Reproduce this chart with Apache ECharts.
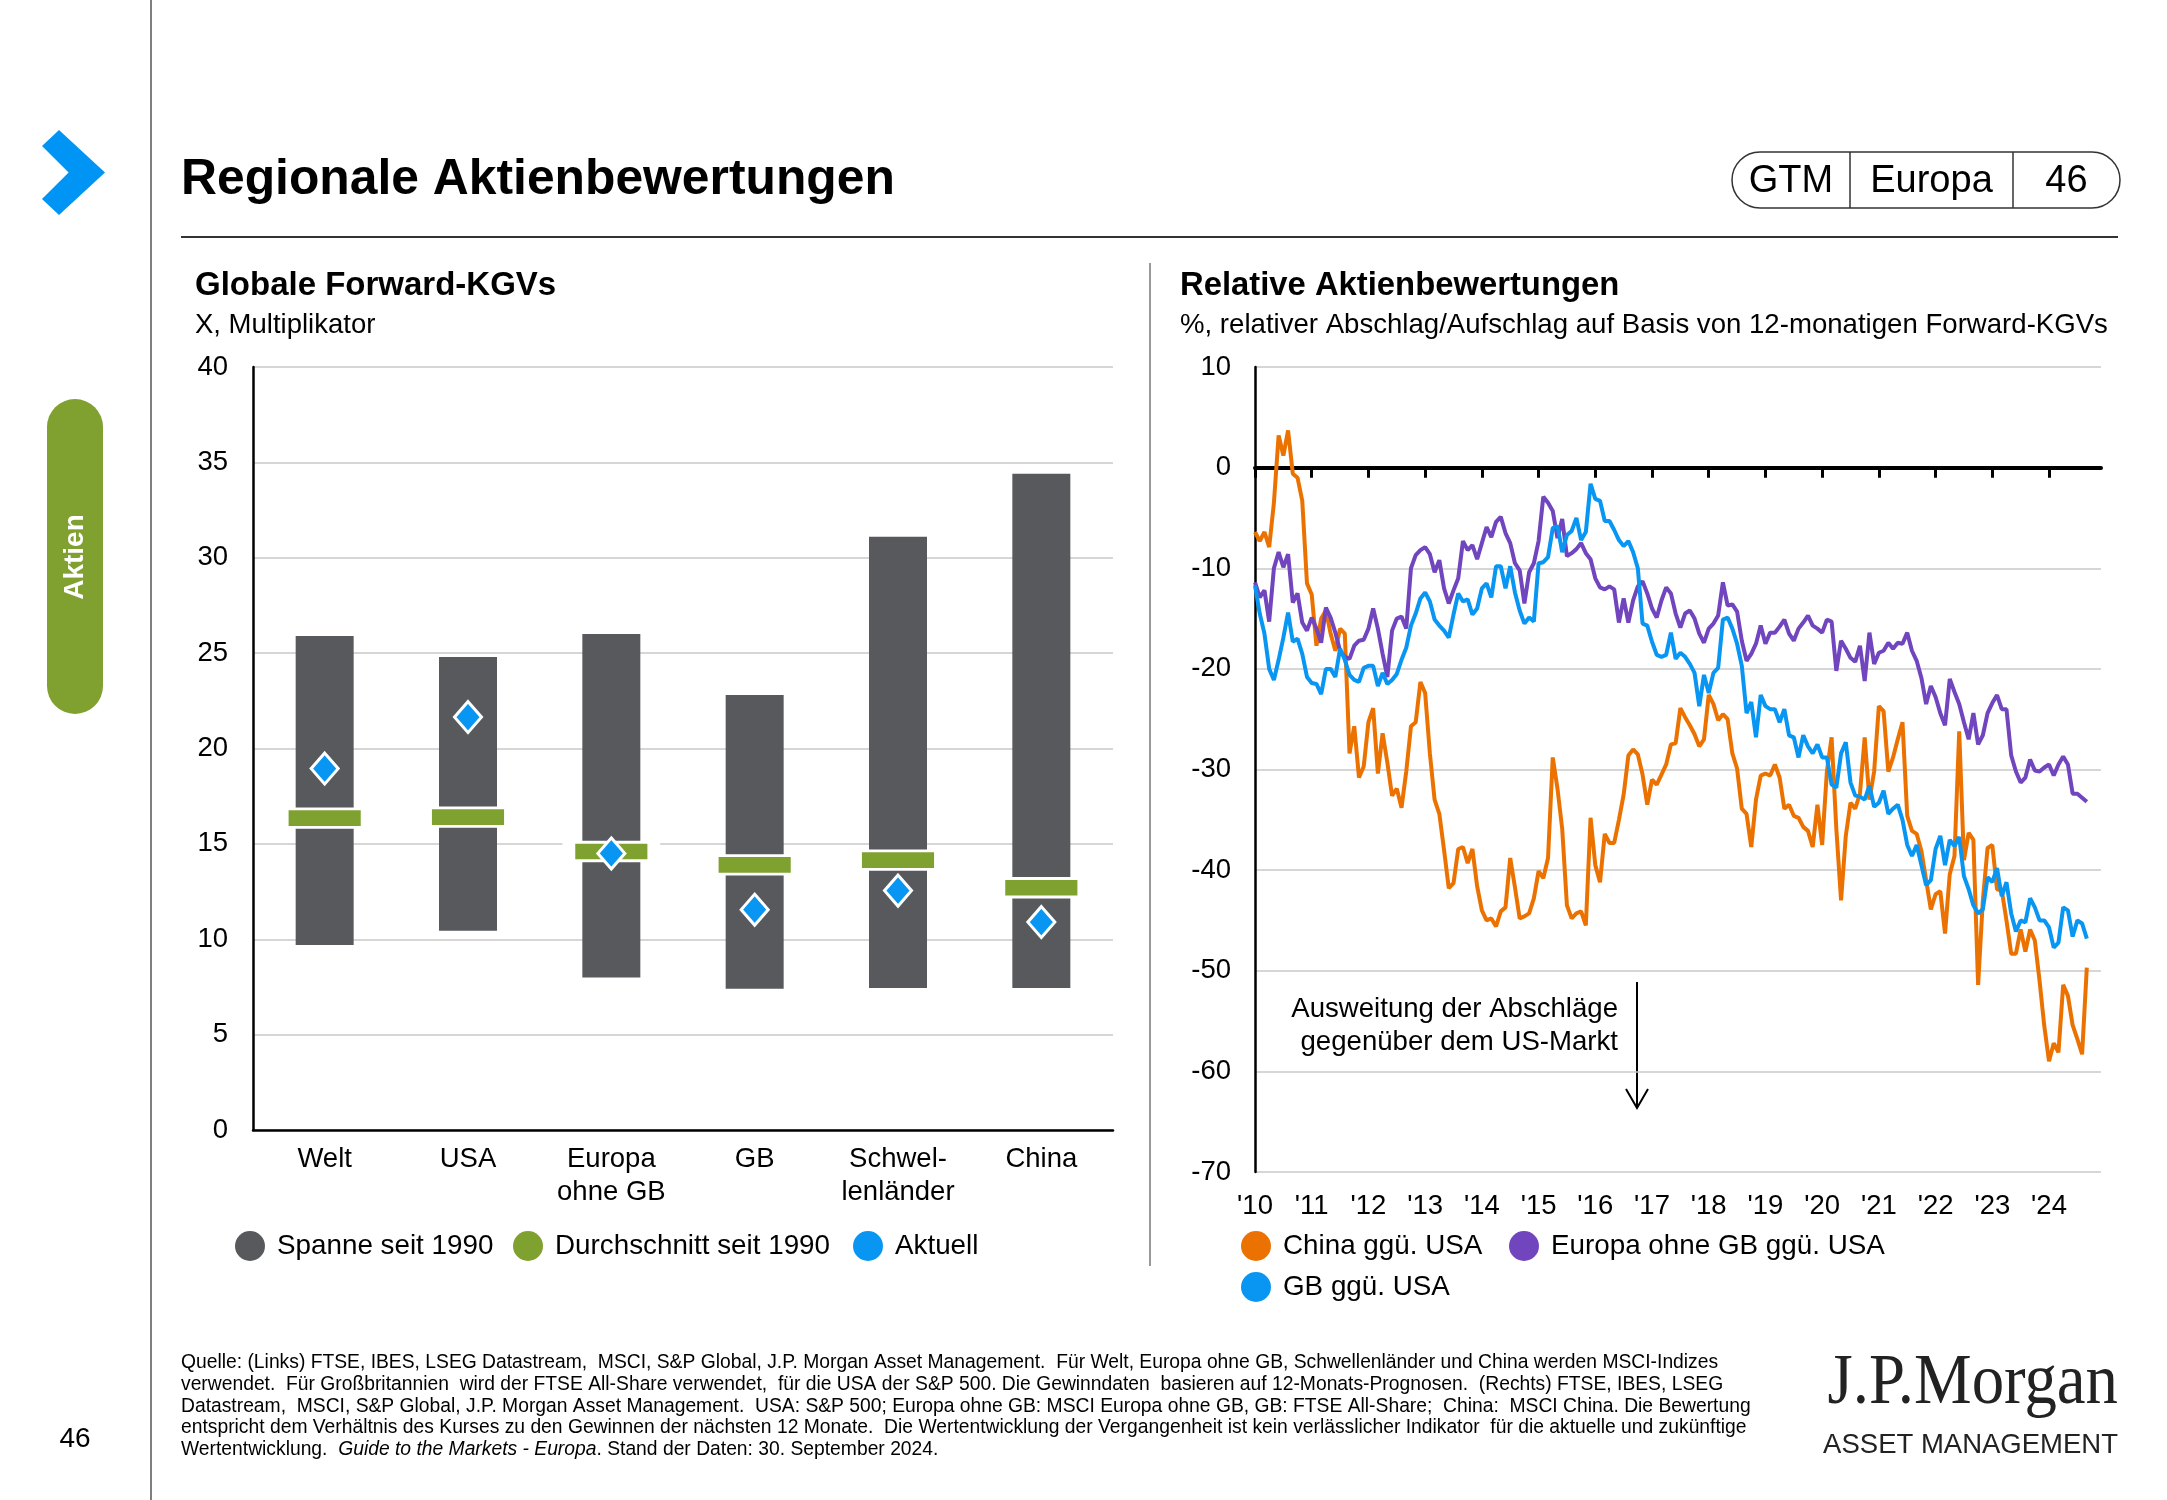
<!DOCTYPE html>
<html><head><meta charset="utf-8">
<script src="https://cdn.jsdelivr.net/npm/echarts@6/dist/echarts.min.js"></script>
<style>html,body{margin:0;padding:0;background:#fff}#c{width:2167px;height:1500px}</style>
</head><body><div id="c"></div>
<script>
const FONT = '"Liberation Sans", Arial, Helvetica, sans-serif';

// ---- Left chart: global forward P/E ----
const categories = ['Welt', 'USA', 'Europa\nohne GB', 'GB', 'Schwel-\nlenländer', 'China'];
const rangeLow  = [9.7, 10.45, 8.0, 7.4, 7.45, 7.45];
const rangeHigh = [25.9, 24.8, 26.0, 22.8, 31.1, 34.4];
const average   = [16.35, 16.4, 14.6, 13.9, 14.15, 12.7];
const current   = [18.95, 21.65, 14.5, 11.55, 12.55, 10.9];
const leftTicks = [0, 40, 5]; // min, max, interval

// ---- Right chart: relative valuations, monthly Jan 2010 .. Sep 2024 ----
const startYear = 2010, endYear = 2024;
const rightTicks = [-70, 10, 10];
const chinaVsUSA = [
 -6.4,-7.3,-6.4,-7.9,-3.5,3.2,1.2,3.7,-0.6,-1.0,-3.3,-11.5,
 -12.6,-17.7,-15,-14.2,-16.5,-18.2,-16,-16.5,-28.4,-25.7,-30.8,-29.7,
 -25.3,-23.9,-30.4,-26.4,-29.3,-32.6,-31.9,-33.8,-30.2,-25.7,-25.3,-21.3,
 -22.4,-28.4,-33,-34.4,-38,-41.8,-41.3,-37.9,-37.7,-39.3,-37.9,-41.6,
 -44,-45,-44.8,-45.6,-44.1,-43.7,-38.8,-41.7,-44.8,-44.6,-44.3,-42.8,
 -40.1,-40.8,-38.8,-28.8,-31.9,-35.9,-43.5,-44.8,-44.3,-44.1,-45.5,-34.8,
 -39.5,-41.2,-36.4,-37.3,-37.3,-35,-32.5,-28.6,-28,-28.5,-30.5,-33.5,
 -31,-31.5,-30.5,-29.5,-27.5,-27.4,-23.9,-24.8,-25.6,-26.5,-27.7,-27,
 -22.6,-23.5,-25.1,-24.5,-25,-28.4,-29.9,-33.9,-34.4,-37.7,-33,-30.6,
 -30.4,-30.6,-29.5,-30.8,-33.9,-33.5,-34.6,-34.8,-35.7,-36.1,-37.7,-33.5,
 -37.5,-30.2,-26.8,-35.9,-43,-36.6,-33.3,-33.9,-32.4,-26.8,-33,-30.2,
 -23.7,-24.2,-30.2,-28.8,-27,-25.3,-34.6,-36.1,-36.4,-38.1,-41,-43.9,
 -42.4,-42.1,-46.3,-40.4,-38.6,-26.2,-39,-36.3,-37,-51.4,-43,-37.8,
 -37.5,-41.9,-42,-45,-48.3,-48.3,-45.9,-48.1,-45.9,-47,-51,-55.5,
 -59,-57.2,-58.1,-51.4,-52.5,-55.4,-56.8,-58.3,-49.7
];
const europeExUKVsUSA = [
 -11.4,-12.9,-12.2,-15.3,-10,-8.4,-9.9,-8.6,-13.4,-12.5,-15.4,-16.2,
 -14.9,-16,-17.4,-13.9,-14.9,-16.4,-18.2,-18.8,-19,-17.7,-17.2,-17.1,
 -16,-14,-16,-18.5,-20.8,-16.2,-15,-14.8,-16,-10,-8.7,-8.2,
 -7.9,-8.6,-10.4,-9.2,-12,-13.5,-12.2,-11,-7.3,-8.2,-7.7,-9.1,
 -7.5,-5.9,-6.9,-5.4,-4.9,-6.5,-7.5,-9.5,-10.2,-13.5,-10.4,-9.5,
 -7.3,-2.9,-3.5,-4.3,-7,-5.1,-8.8,-8.5,-8.1,-7.5,-8.5,-9.1,
 -11,-11.9,-12.1,-11.8,-12.1,-15.4,-13,-15.4,-13.2,-11.8,-11.3,-12.5,
 -14,-14.9,-13.2,-11.9,-12.5,-14.5,-15.9,-14.5,-14.2,-15,-16.5,-17.4,
 -16,-15.5,-14.7,-11.4,-13.7,-13.6,-14.3,-17.2,-19.2,-18.5,-17.5,-15.7,
 -17.5,-16.4,-16.4,-15.8,-15.1,-16.5,-17.2,-16,-15.4,-14.7,-15.7,-16,
 -16.4,-15.1,-15.3,-20.2,-17.2,-18,-18.9,-19.3,-17.7,-21.2,-16.4,-19.5,
 -18.4,-18.2,-17.4,-18,-17.4,-17.5,-16.4,-18.2,-19.2,-20.9,-23.5,-21.7,
 -22.8,-24.4,-25.6,-21,-22.3,-23.5,-25.3,-27,-24.4,-27.5,-26.6,-24.4,
 -23.4,-22.6,-24,-24,-28.6,-30.2,-31.3,-30.8,-29,-30.1,-30.2,-29.8,
 -29.5,-30.6,-29.5,-28.7,-29.5,-32.4,-32.4,-32.8,-33.2
];
const ukVsUSA = [
 -11.7,-14.5,-16.5,-20,-21.1,-19.1,-16.9,-14.4,-17.3,-17,-18.5,-20.8,
 -21.4,-21.5,-22.5,-20,-20,-20.8,-18,-19.1,-20.6,-21.1,-21.3,-19.9,
 -19.7,-19.7,-21.7,-20.4,-21.5,-21.1,-20.5,-19.1,-17.9,-15.7,-14.5,-13,
 -12.4,-13.3,-15.1,-15.7,-16.2,-16.9,-14.6,-12.5,-13.3,-13.1,-14.6,-14,
 -12,-11.5,-12.9,-9.8,-9.8,-12,-9.8,-12.4,-14.2,-15.5,-14.9,-15.3,
 -9.5,-9.4,-8.9,-6,-5.8,-8.4,-6.7,-6.3,-5,-7.2,-6.4,-1.6,
 -3.1,-3.3,-5.3,-5.3,-6.2,-7.2,-7.8,-7.3,-8.4,-10,-15.5,-15.7,
 -17.3,-18.6,-18.8,-18.6,-16.4,-19,-18.4,-18.8,-19.5,-20.4,-23.7,-20.6,
 -22.4,-20.4,-19.9,-15.1,-14.9,-16,-17.5,-19.7,-24.4,-23.3,-26.8,-22.6,
 -23.7,-24,-24,-25.3,-24,-26.6,-26.8,-28.8,-26.6,-27.7,-28.4,-27.5,
 -28.8,-28.8,-31.5,-31.8,-28.4,-27.3,-31.3,-32.6,-32.7,-33,-31.6,-33.7,
 -33.3,-32.1,-34.4,-33.9,-33.5,-35,-37.5,-38.6,-37.5,-39.5,-41.5,-41,
 -37.9,-36.6,-39.5,-37,-37.6,-36.7,-40.6,-41.9,-43.5,-44.3,-43.9,-40.7,
 -41.2,-39.8,-42.6,-41.2,-44.3,-46.1,-45,-45.2,-42.8,-43.7,-45,-45,
 -45.7,-47.7,-47.2,-43.7,-44,-46.6,-45,-45.3,-46.8
];

const months = [];
for (let y = startYear; y <= endYear; y++) {
  for (let m = 1; m <= 12; m++) months.push(y + '-' + (m < 10 ? '0' + m : m));
}
const isJan = (i, v) => v.slice(5) === '01';

const C_GRAY = '#57595C', C_GREEN = '#7FA12F', C_BLUE = '#0896F2',
      C_ORANGE = '#EB7200', C_PURPLE = '#7045BE', C_GRID = '#C9C9C9';

const txt = (x, y, text, size, extra) => Object.assign({
  type: 'text', x: x, y: y, silent: true,
  style: Object.assign({ text: text, fontSize: size, fontFamily: FONT, fill: '#000',
    align: 'left', verticalAlign: 'middle' }, (extra && extra.style) || {})
}, extra && extra.el || {});

const FN = 19.3;
const graphics = [
  { type: 'line', silent: true, shape: { x1: 151, y1: 0, x2: 151, y2: 1500 }, style: { stroke: '#555', lineWidth: 1.5 } },
  { type: 'polygon', silent: true, shape: { points: [[42,146],[59,130],[105,172.5],[59,215],[42,199],[68.6,172.5]] }, style: { fill: '#0095F5' } },
  { type: 'rect', silent: true, shape: { x: 47, y: 399, width: 56, height: 315, r: 28 }, style: { fill: '#80A030' } },
  { type: 'text', silent: true, x: 75, y: 557, rotation: Math.PI / 2,
    style: { text: 'Aktien', fill: '#fff', fontSize: 28, fontWeight: 'bold', fontFamily: FONT, align: 'center', verticalAlign: 'middle' } },
  txt(181, 180, 'Regionale Aktienbewertungen', 49.8, { style: { fontWeight: 'bold' } }),
  { type: 'line', silent: true, shape: { x1: 181, y1: 237, x2: 2118, y2: 237 }, style: { stroke: '#333', lineWidth: 2 } },
  { type: 'rect', silent: true, shape: { x: 1732, y: 152, width: 388, height: 56, r: 28 }, style: { fill: 'none', stroke: '#333', lineWidth: 1.5 } },
  { type: 'line', silent: true, shape: { x1: 1850, y1: 152, x2: 1850, y2: 208 }, style: { stroke: '#333', lineWidth: 1.5 } },
  { type: 'line', silent: true, shape: { x1: 2013, y1: 152, x2: 2013, y2: 208 }, style: { stroke: '#333', lineWidth: 1.5 } },
  txt(1791, 182, 'GTM', 38, { style: { align: 'center' } }),
  txt(1931.5, 182, 'Europa', 38, { style: { align: 'center' } }),
  txt(2066.5, 182, '46', 38, { style: { align: 'center' } }),
  txt(195, 285.5, 'Globale Forward-KGVs', 33, { style: { fontWeight: 'bold' } }),
  txt(195, 325.5, 'X, Multiplikator', 27.5),
  txt(1180, 285.5, 'Relative Aktienbewertungen', 32.8, { style: { fontWeight: 'bold' } }),
  txt(1180, 325.5, '%, relativer Abschlag/Aufschlag auf Basis von 12-monatigen Forward-KGVs', 27.6),
  { type: 'line', silent: true, shape: { x1: 1150, y1: 263, x2: 1150, y2: 1266 }, style: { stroke: '#777', lineWidth: 1.5 } },
  txt(1618, 1009, 'Ausweitung der Abschläge', 27.6, { style: { align: 'right' } }),
  txt(1618, 1042, 'gegenüber dem US-Markt', 27.6, { style: { align: 'right' } }),
  { type: 'line', silent: true, shape: { x1: 1637, y1: 982, x2: 1637, y2: 1108 }, style: { stroke: '#000', lineWidth: 2 } },
  { type: 'polyline', silent: true, shape: { points: [[1626, 1089], [1637, 1108], [1648, 1089]] }, style: { stroke: '#000', lineWidth: 2, fill: 'none' } },
  txt(75, 1439, '46', 28, { style: { align: 'center' } }),
  txt(181, 1363, 'Quelle: (Links) FTSE, IBES, LSEG Datastream,  MSCI, S&P Global, J.P. Morgan Asset Management.  Für Welt, Europa ohne GB, Schwellenländer und China werden MSCI-Indizes', FN),
  txt(181, 1385, 'verwendet.  Für Großbritannien  wird der FTSE All-Share verwendet,  für die USA der S&P 500. Die Gewinndaten  basieren auf 12-Monats-Prognosen.  (Rechts) FTSE, IBES, LSEG', FN),
  txt(181, 1407, 'Datastream,  MSCI, S&P Global, J.P. Morgan Asset Management.  USA: S&P 500; Europa ohne GB: MSCI Europa ohne GB, GB: FTSE All-Share;  China:  MSCI China. Die Bewertung', FN),
  txt(181, 1428, 'entspricht dem Verhältnis des Kurses zu den Gewinnen der nächsten 12 Monate.  Die Wertentwicklung der Vergangenheit ist kein verlässlicher Indikator  für die aktuelle und zukünftige', FN),
  txt(181, 1450, 'Wertentwicklung.  {i|Guide to the Markets - Europa}. Stand der Daten: 30. September 2024.', FN,
      { style: { rich: { i: { fontStyle: 'italic', fontSize: FN, fontFamily: FONT } } } }),
  { type: 'text', silent: true, x: 2118, y: 1384, scaleX: 0.9,
    style: { text: 'J.P.Morgan', fontSize: 72, fontFamily: '"Liberation Serif", "DejaVu Serif", serif', fill: '#222', align: 'right', verticalAlign: 'middle' } },
  txt(2118, 1445, 'ASSET MANAGEMENT', 27.5, { style: { align: 'right', fill: '#222' } })
];

const axisFont = { fontSize: 27.5, fontFamily: FONT, color: '#000' };

const legendItem = (name, left, top, color) => ({
  data: [{ name: name, icon: 'circle', itemStyle: { color: color, borderWidth: 0 } }],
  left: left, top: top, padding: 0, itemWidth: 44, itemHeight: 30, symbolKeepAspect: true,
  textStyle: { fontSize: 27.8, fontFamily: FONT, color: '#000' }, selectedMode: false
});

const option = {
  animation: false,
  backgroundColor: '#fff',
  graphic: graphics,
  legend: [
    legendItem('Spanne seit 1990', 235, 1231, C_GRAY),
    legendItem('Durchschnitt seit 1990', 513, 1231, C_GREEN),
    legendItem('Aktuell', 853, 1231, C_BLUE),
    legendItem('China ggü. USA', 1241, 1231, C_ORANGE),
    legendItem('Europa ohne GB ggü. USA', 1509, 1231, C_PURPLE),
    legendItem('GB ggü. USA', 1241, 1272, C_BLUE)
  ],
  grid: [
    { left: 253, top: 367, width: 860, height: 763 },
    { left: 1255, top: 367, width: 846, height: 805 }
  ],
  xAxis: [
    { type: 'category', gridIndex: 0, data: categories,
      axisLine: { lineStyle: { color: '#000', width: 2.5 } },
      axisTick: { length: 8, lineStyle: { color: '#000', width: 2 } },
      axisLabel: Object.assign({ interval: 0, margin: 13, lineHeight: 33 }, axisFont) },
    { type: 'category', gridIndex: 1, data: months, boundaryGap: false, position: 'bottom',
      axisLine: { show: false, onZero: false }, axisTick: { show: false },
      axisLabel: Object.assign({ interval: isJan, margin: 20, formatter: v => "'" + v.slice(2, 4) }, axisFont),
      splitLine: { show: false } },
    { type: 'category', gridIndex: 1, data: months, boundaryGap: false, position: 'top',
      axisLine: { show: true, onZero: true, lineStyle: { color: '#000', width: 4 } },
      axisTick: { show: true, inside: true, length: 10, interval: isJan, lineStyle: { color: '#000', width: 3 } },
      axisLabel: { show: false }, splitLine: { show: false } }
  ],
  yAxis: [
    { type: 'value', gridIndex: 0, min: leftTicks[0], max: leftTicks[1], interval: leftTicks[2],
      axisLine: { show: true, lineStyle: { color: '#000', width: 2.5 } }, axisTick: { show: false },
      axisLabel: Object.assign({ margin: 25 }, axisFont),
      splitLine: { lineStyle: { color: C_GRID, width: 1.5 } } },
    { type: 'value', gridIndex: 1, min: rightTicks[0], max: rightTicks[1], interval: rightTicks[2],
      axisLine: { show: true, onZero: false, lineStyle: { color: '#000', width: 2.5 } }, axisTick: { show: false },
      axisLabel: Object.assign({ margin: 24 }, axisFont),
      splitLine: { lineStyle: { color: C_GRID, width: 1.5 } } }
  ],
  series: [
    { type: 'bar', name: 'base', xAxisIndex: 0, yAxisIndex: 0, stack: 'range', barWidth: 58,
      data: rangeLow, itemStyle: { color: 'rgba(0,0,0,0)' }, silent: true },
    { type: 'bar', name: 'Spanne seit 1990', xAxisIndex: 0, yAxisIndex: 0, stack: 'range', barWidth: 58,
      data: rangeHigh.map((h, i) => +(h - rangeLow[i]).toFixed(2)), itemStyle: { color: C_GRAY } },
    { type: 'scatter', name: 'Durchschnitt seit 1990', xAxisIndex: 0, yAxisIndex: 0, data: average,
      symbol: 'rect', symbolSize: [85, 18.5], z: 3,
      itemStyle: { color: C_GREEN, borderColor: '#fff', borderWidth: 6, opacity: 1 } },
    { type: 'scatter', name: 'Aktuell', xAxisIndex: 0, yAxisIndex: 0, data: current,
      symbol: 'diamond', symbolSize: [27, 31], z: 4,
      itemStyle: { color: C_BLUE, borderColor: '#fff', borderWidth: 3, opacity: 1 } },
    { type: 'line', name: 'China ggü. USA', xAxisIndex: 1, yAxisIndex: 1, data: chinaVsUSA,
      showSymbol: false, lineStyle: { color: C_ORANGE, width: 4 }, itemStyle: { color: C_ORANGE } },
    { type: 'line', name: 'Europa ohne GB ggü. USA', xAxisIndex: 1, yAxisIndex: 1, data: europeExUKVsUSA,
      showSymbol: false, lineStyle: { color: C_PURPLE, width: 4 }, itemStyle: { color: C_PURPLE } },
    { type: 'line', name: 'GB ggü. USA', xAxisIndex: 1, yAxisIndex: 1, data: ukVsUSA,
      showSymbol: false, lineStyle: { color: C_BLUE, width: 4 }, itemStyle: { color: C_BLUE } }
  ]
};

const chart = echarts.init(document.getElementById('c'), null, { renderer: 'canvas' });
chart.setOption(option);
</script>
</body></html>
